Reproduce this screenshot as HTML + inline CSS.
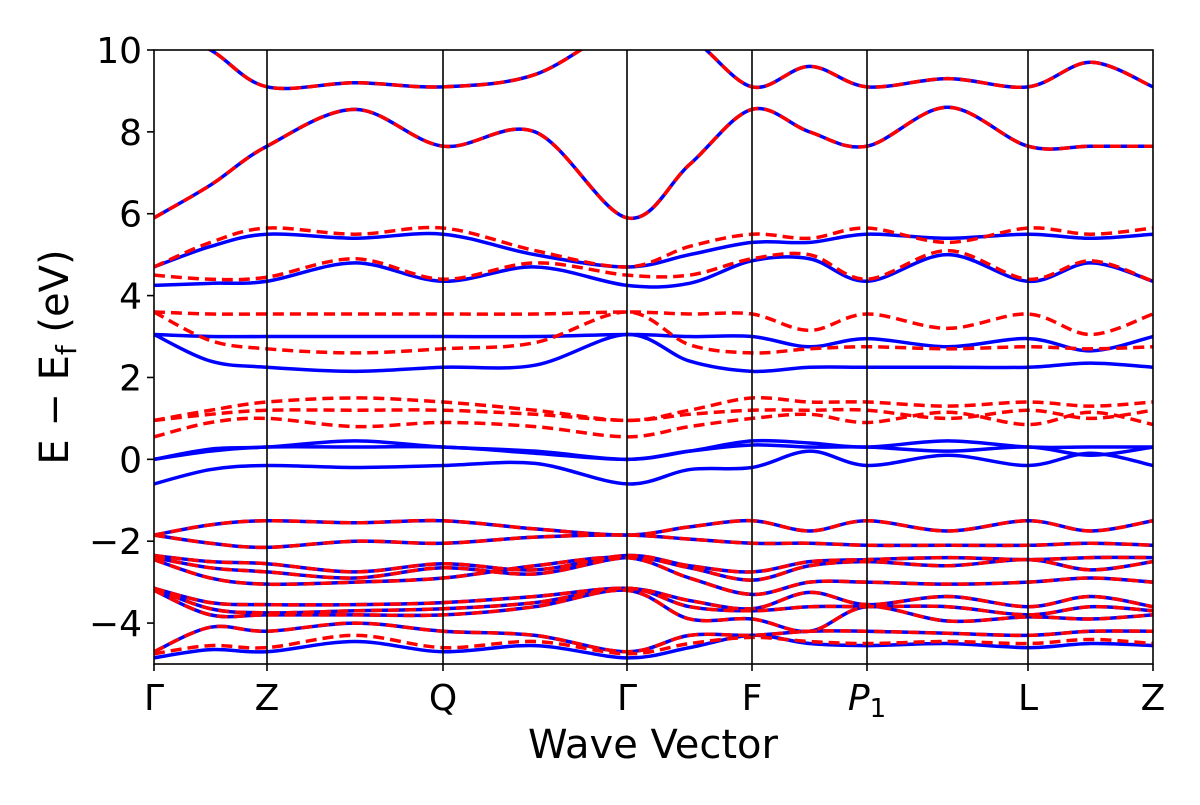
<!DOCTYPE html>
<html><head><meta charset="utf-8"><style>
html,body{margin:0;padding:0;background:#fff;}
svg text{font-family:"DejaVu Sans","Liberation Sans",sans-serif;fill:#000;}
</style></head><body>
<svg id="chart" width="1200" height="800" xmlns="http://www.w3.org/2000/svg">
<defs><clipPath id="clip"><rect x="154" y="50" width="999" height="614"/></clipPath></defs>
<g id="bands" clip-path="url(#clip)"></g>
<g id="axes"></g>
</svg>
<script>
const kLabels = ["Γ","Z","Q","Γ","F","P1","L","Z"];
const kPos = [154,267,443,627,752,867,1028,1153];
const yTicks = [-4,-2,0,2,4,6,8,10];
const blueBands = [
 [5.9,6.7,7.65,8.55,7.65,8.0,5.9,7.2,8.55,8.0,7.65,8.6,7.65,7.65,7.65],
 [10.6,10.0,9.1,9.2,9.1,9.4,10.6,10.3,9.1,9.6,9.1,9.3,9.1,9.7,9.1],
 [4.7,5.2,5.5,5.4,5.5,5.0,4.7,5.0,5.3,5.3,5.5,5.4,5.5,5.4,5.5],
 [4.25,4.3,4.35,4.8,4.35,4.7,4.25,4.3,4.85,4.9,4.35,5.0,4.35,4.8,4.35],
 [3.05,3.0,3.0,3.0,3.0,3.0,3.05,3.0,3.0,2.75,2.95,2.75,2.95,2.65,3.0],
 [3.05,2.4,2.25,2.15,2.25,2.3,3.05,2.4,2.15,2.25,2.25,2.25,2.25,2.35,2.25],
 [0.0,0.25,0.3,0.45,0.3,0.2,0.0,0.2,0.45,0.4,0.3,0.45,0.3,0.3,0.3],
 [0.0,0.2,0.3,0.3,0.3,0.15,0.0,0.2,0.35,0.3,0.3,0.2,0.3,0.1,0.3],
 [-0.6,-0.25,-0.15,-0.2,-0.15,-0.1,-0.6,-0.25,-0.2,0.2,-0.15,0.1,-0.15,0.15,-0.15],
 [-4.85,-4.65,-4.7,-4.45,-4.7,-4.55,-4.85,-4.6,-4.3,-4.5,-4.55,-4.5,-4.6,-4.5,-4.55]
];
const redBands = [
 [5.9,6.7,7.65,8.55,7.65,8.0,5.9,7.2,8.55,8.0,7.65,8.6,7.65,7.65,7.65],
 [10.6,10.0,9.1,9.2,9.1,9.4,10.6,10.3,9.1,9.6,9.1,9.3,9.1,9.7,9.1],
 [4.7,5.3,5.65,5.5,5.65,5.1,4.7,5.2,5.5,5.4,5.65,5.3,5.65,5.5,5.65],
 [4.5,4.4,4.45,4.9,4.4,4.8,4.5,4.5,4.9,5.0,4.4,5.1,4.4,4.85,4.35],
 [3.6,3.55,3.55,3.55,3.55,3.55,3.6,3.55,3.55,3.15,3.55,3.2,3.55,3.05,3.55],
 [3.6,2.9,2.7,2.6,2.7,2.85,3.6,2.8,2.6,2.7,2.75,2.7,2.75,2.7,2.75],
 [0.95,1.2,1.4,1.5,1.4,1.2,0.95,1.2,1.5,1.4,1.4,1.3,1.4,1.3,1.4],
 [0.95,1.1,1.2,1.2,1.2,1.1,0.95,1.1,1.2,1.2,1.2,1.0,1.2,1.0,1.2],
 [0.55,0.9,1.0,0.8,0.9,0.8,0.55,0.8,1.0,1.1,0.9,1.15,0.85,1.15,0.85],
 [-4.75,-4.55,-4.6,-4.3,-4.6,-4.45,-4.75,-4.5,-4.35,-4.45,-4.5,-4.45,-4.5,-4.4,-4.5]
];
const valenceBands = [
 [-1.85,-1.6,-1.5,-1.55,-1.5,-1.7,-1.85,-1.65,-1.5,-1.75,-1.5,-1.75,-1.5,-1.75,-1.5],
 [-1.85,-2.05,-2.15,-2.0,-2.05,-1.9,-1.85,-1.95,-2.05,-2.05,-2.1,-2.1,-2.1,-2.05,-2.1],
 [-2.35,-2.5,-2.55,-2.75,-2.55,-2.7,-2.35,-2.6,-2.75,-2.5,-2.45,-2.4,-2.45,-2.4,-2.4],
 [-2.4,-2.65,-2.75,-2.9,-2.65,-2.8,-2.4,-2.65,-2.95,-2.6,-2.5,-2.6,-2.45,-2.7,-2.5],
 [-2.45,-2.9,-3.05,-3.0,-2.9,-2.6,-2.4,-2.9,-3.3,-3.0,-3.0,-3.05,-3.0,-2.9,-3.0],
 [-3.15,-3.5,-3.55,-3.55,-3.5,-3.35,-3.15,-3.45,-3.65,-3.25,-3.55,-3.35,-3.6,-3.35,-3.6],
 [-3.15,-3.65,-3.75,-3.7,-3.65,-3.5,-3.15,-3.6,-3.7,-3.6,-3.6,-3.6,-3.8,-3.6,-3.7],
 [-3.2,-3.8,-3.8,-3.8,-3.8,-3.6,-3.2,-3.9,-3.9,-4.2,-3.6,-3.95,-3.85,-3.9,-3.8],
 [-4.7,-4.1,-4.2,-4.0,-4.2,-4.3,-4.7,-4.3,-4.3,-4.2,-4.2,-4.25,-4.3,-4.2,-4.2]
];

const X0=154,X1=1153,Y0=50,Y1=664,EMIN=-5,EMAX=10;
const NS="http://www.w3.org/2000/svg";
const yScale=e=>Y0+(EMAX-e)/(EMAX-EMIN)*(Y1-Y0);
function knotX(i){
  const s=Math.floor(i/2);
  if(i%2===0) return kPos[s];
  return (kPos[s]+kPos[s+1])/2;
}
function pathFor(vals){
  const p=vals.map((v,i)=>[knotX(i),yScale(v)]);
  let d="M"+p[0][0]+","+p[0][1];
  for(let i=0;i<p.length-1;i++){
    const a=p[i-1]||p[i],b=p[i],c=p[i+1],e=p[i+2]||c;
    const c1=[b[0]+(c[0]-a[0])/6,b[1]+(c[1]-a[1])/6];
    const c2=[c[0]-(e[0]-b[0])/6,c[1]-(e[1]-b[1])/6];
    d+=" C"+c1[0]+","+c1[1]+" "+c2[0]+","+c2[1]+" "+c[0]+","+c[1];
  }
  return d;
}
const gB=document.getElementById("bands");
function addBand(vals,color,dash,name){
  const el=document.createElementNS(NS,"path");
  el.setAttribute("d",pathFor(vals));
  el.setAttribute("fill","none");
  el.setAttribute("stroke",color);
  el.setAttribute("stroke-width","3.5");
  if(dash) el.setAttribute("stroke-dasharray",dash);
  
  
  gB.appendChild(el);
}
blueBands.forEach(b=>addBand(b,"#0000ff",null,"spin-up-band"));
valenceBands.forEach(b=>addBand(b,"#0000ff",null,"spin-up-band"));
redBands.forEach(b=>addBand(b,"#ff0000","11,6","spin-down-band"));
valenceBands.forEach(b=>addBand(b,"#ff0000","11,6","spin-down-band"));

const gA=document.getElementById("axes");
function mk(tag,attrs,text){
  const el=document.createElementNS(NS,tag);
  for(const k in attrs) el.setAttribute(k,attrs[k]);
  if(text!==undefined) el.textContent=text;
  gA.appendChild(el);return el;
}
kPos.forEach((x,i)=>{
  if(i>0&&i<kPos.length-1){
    const l=mk("line",{x1:x,x2:x,y1:Y0,y2:Y1,stroke:"#000","stroke-width":1.6});
    
    
  }
});
const frame=mk("rect",{x:X0,y:Y0,width:X1-X0,height:Y1-Y0,fill:"none",stroke:"#000","stroke-width":1.6});


yTicks.forEach(t=>{
  const y=yScale(t);
  const tk=mk("line",{x1:X0-7,x2:X0,y1:y,y2:y,stroke:"#000","stroke-width":1.6});
  
  
  const lb=mk("text",{x:X0-12,y:y+13,"text-anchor":"end","font-size":36},t<0?"−"+(-t):String(t));
  
  
});
kPos.forEach((x,i)=>{
  const tk=mk("line",{x1:x,x2:x,y1:Y1,y2:Y1+7,stroke:"#000","stroke-width":1.6});
  
  
  let lb;
  if(kLabels[i]==="P1"){
    lb=mk("text",{x:x,y:Y1+46,"text-anchor":"middle","font-size":36});
    const a=document.createElementNS(NS,"tspan");a.setAttribute("font-style","italic");a.textContent="P";lb.appendChild(a);
    const b=document.createElementNS(NS,"tspan");b.setAttribute("font-size","26");b.setAttribute("dy","7");b.textContent="1";lb.appendChild(b);
  } else {
    lb=mk("text",{x:x,y:Y1+46,"text-anchor":"middle","font-size":36},kLabels[i]);
  }
  
  
});
const xt=mk("text",{x:653,y:758,"text-anchor":"middle","font-size":40},"Wave Vector");


const yt=mk("text",{x:0,y:0,"text-anchor":"middle","font-size":40,transform:"translate(68,357) rotate(-90)"});
yt.innerHTML='E − E<tspan font-size="28" dy="8">f</tspan><tspan dy="-8"> (eV)</tspan>';


</script>
</body></html>
